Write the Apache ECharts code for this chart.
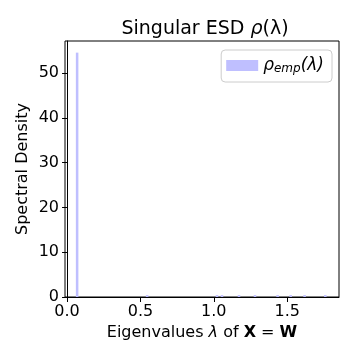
<!DOCTYPE html>
<html>
<head>
<meta charset="utf-8">
<script src="https://cdn.jsdelivr.net/npm/echarts@6/dist/echarts.min.js"></script>
<style>
  html, body { margin: 0; padding: 0; background: #fff; }
  #chart { width: 360px; height: 360px; }
</style>
</head>
<body>
<div id="chart"></div>
<script>
// histogram bins (left edge) and density heights
const binWidth = 0.0173;
const binStarts = [0.060, 0.537, 1.013, 1.047, 1.163, 1.272, 1.426, 1.515, 1.610, 1.751];
const densities = [54.6, 0.42, 0.42, 0.42, 0.42, 0.42, 0.42, 0.42, 0.42, 0.42];
const xTicks = [0, 0.5, 1.0, 1.5];
const yTicks = [0, 10, 20, 30, 40, 50];

const font = "DejaVu Sans";
const chart = echarts.init(document.getElementById("chart"));

const option = {
  animation: false,
  backgroundColor: "#fff",
  title: {
    text: "Singular ESD {i|ρ}(λ)",
    left: 200,
    top: 15,
    textAlign: "center",
    textStyle: {
      fontFamily: font, fontSize: 19, fontWeight: "normal", color: "#000",
      rich: { i: { fontFamily: font, fontSize: 19, fontStyle: "italic", color: "#000" } }
    }
  },
  legend: {
    right: 28,
    top: 50,
    itemWidth: 32,
    itemHeight: 11,
    itemGap: 10,
    padding: [7, 8, 7, 5],
    borderColor: "#ccc",
    borderWidth: 1,
    borderRadius: 4,
    backgroundColor: "#fff",
    data: [{ name: "rho", icon: "rect" }],
    formatter: () => "{i|ρ}{s|emp}{n|(λ)}",
    textStyle: {
      fontFamily: font, color: "#000",
      rich: {
        i: { fontFamily: font, fontSize: 17, fontStyle: "italic", color: "#000" },
        s: { fontFamily: font, fontSize: 12, fontStyle: "italic", color: "#000", verticalAlign: "bottom", padding: [7, 0, 0, 0] },
        n: { fontFamily: font, fontSize: 17, fontStyle: "italic", color: "#000" }
      }
    }
  },
  grid: {
    left: 65, right: 21, top: 41, bottom: 63,
    show: true, borderColor: "#000", borderWidth: 1
  },
  xAxis: {
    type: "value",
    min: -0.014,
    max: 1.853,
    splitLine: { show: false },
    axisLine: { show: true, onZero: false, lineStyle: { color: "#000", width: 1 } },
    axisTick: { show: true, length: 5, customValues: xTicks, lineStyle: { color: "#000" } },
    axisLabel: {
      customValues: xTicks, fontFamily: font, fontSize: 16, color: "#000", margin: 7,
      formatter: v => v.toFixed(1)
    },
    name: "Eigenvalues {i|λ} of {b|X} = {b|W}",
    nameLocation: "middle",
    nameGap: 28,
    nameTextStyle: {
      fontFamily: font, fontSize: 16, color: "#000",
      rich: {
        i: { fontFamily: font, fontSize: 16, fontStyle: "italic", color: "#000" },
        b: { fontFamily: font, fontSize: 16, fontWeight: "bold", color: "#000" }
      }
    }
  },
  yAxis: {
    type: "value",
    min: 0,
    max: 57.2,
    splitLine: { show: false },
    axisLine: { show: true, lineStyle: { color: "#000", width: 1 } },
    axisTick: { show: true, length: 5, customValues: yTicks, lineStyle: { color: "#000" } },
    axisLabel: { customValues: yTicks, fontFamily: font, fontSize: 16, color: "#000", margin: 6 },
    name: "Spectral Density",
    nameLocation: "middle",
    nameGap: 34,
    nameMoveOverlap: false,
    nameTextStyle: { fontFamily: font, fontSize: 16, color: "#000" }
  },
  series: [{
    name: "rho",
    type: "custom",
    itemStyle: { color: "rgb(191,191,255)" },
    data: binStarts.map((s, i) => [s, densities[i]]),
    encode: { x: 0, y: 1 },
    renderItem: (params, api) => {
      const x0 = api.value(0);
      const h = api.value(1);
      const p0 = api.coord([x0, 0]);
      const p1 = api.coord([x0 + binWidth, h]);
      return {
        type: "rect",
        shape: { x: p0[0], y: p1[1], width: p1[0] - p0[0], height: p0[1] - p1[1] },
        style: { fill: "rgb(191,191,255)" }
      };
    }
  }]
};

chart.setOption(option);
</script>
</body>
</html>
